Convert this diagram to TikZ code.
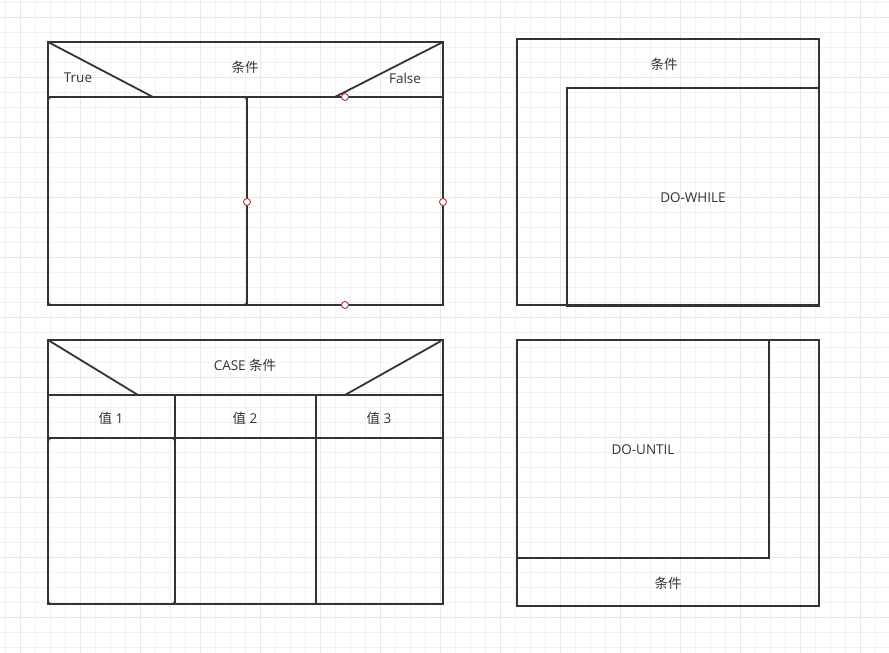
\documentclass[tikz,border=0pt]{standalone}
\usepackage{fontspec}
\setmainfont{Open Sans}
\newfontfamily\cjk{Noto Sans CJK SC}
\definecolor{frame}{HTML}{333333}
\definecolor{minorgrid}{HTML}{F2F2F2}
\definecolor{majorgrid}{HTML}{E8E8E8}
\definecolor{handle}{HTML}{A83A3A}
\tikzset{
  part/.style={draw=frame, line width=1.8pt},
  panel/.style={part, rectangle, inner sep=0pt, outer sep=0pt},
  lbl/.style={text=frame, font=\fontsize{13.5}{15}\selectfont, inner sep=0pt, yshift=-1pt},
  grip/.style={circle, draw=handle, fill=white, line width=0.9pt, minimum size=7pt, inner sep=0pt},
}

\begin{document}
\begin{tikzpicture}[x=1pt,y=-1pt]
	\useasboundingbox (0,0) rectangle (889,653);
	\foreach \x in {5,20,...,885}
		\draw[minorgrid, line width=0.8pt] (\x,0) -- (\x,653);
	\foreach \y in {2,17,...,647}
		\draw[minorgrid, line width=0.8pt] (0,\y) -- (889,\y);
	\foreach \x in {20,80,...,860}
		\draw[majorgrid, line width=0.8pt] (\x,0) -- (\x,653);
	\foreach \y in {17,77,...,647}
		\draw[majorgrid, line width=0.8pt] (0,\y) -- (889,\y);

	% IF block
	\node[panel, minimum width=395pt, minimum height=263pt] (ifbox) at (245.5,173.5) {};
	\coordinate (ifhl) at (48,97);
	\coordinate (ifhr) at (443,97);
	\coordinate (ifmid) at (247,97);
	\draw[part, rounded corners=3pt] (ifhl) rectangle (247,305);
	\draw[part] (ifhl) -- (ifhr);
	\draw[part] (ifmid) -- (ifmid |- ifbox.south);
	\draw[part] (ifbox.north west) -- (153,97);
	\draw[part] (ifbox.north east) -- (335,97);
	\node[lbl] (ifcond) at (245,66) {\cjk 条件};
	\node[lbl] (iftrue) at (78,77) {True};
	\node[lbl] (iffalse) at (405,77) {False};
	\node[grip] (gripn) at (345,97) {};
	\node[grip] (gripw) at (247,202) {};
	\node[grip] (gripe) at (443,202) {};
	\node[grip] (grips) at (345,305) {};

	% DO-WHILE block
	\node[panel, minimum width=302pt, minimum height=266pt] (whilebox) at (668,172) {};
	\node[panel, anchor=north east, minimum width=252pt, minimum height=218pt] (whilebody) at (819,88) {};
	\node[lbl] (whilecond) at (664,63) {\cjk 条件};
	\node[lbl] at (whilebody) {DO-WHILE};

	% CASE block
	\node[panel, minimum width=395pt, minimum height=264pt] (casebox) at (245.5,472) {};
	\coordinate (casehl) at (48,395);
	\coordinate (casehr) at (443,395);
	\coordinate (caserl) at (48,438);
	\coordinate (caserr) at (443,438);
	\draw[part, rounded corners=3pt] (caserl) rectangle (175,604);
	\draw[part] (casehl) -- (casehr);
	\draw[part] (caserl) -- (caserr);
	\draw[part] (175,395) -- (175,604);
	\draw[part] (316,395) -- (316,604);
	\draw[part] (casebox.north west) -- (138,395);
	\draw[part] (441,341) -- (345,395);
	\node[lbl] (casecond) at (245,364) {CASE {\cjk 条件}};
	\node[lbl] (val1) at (111,417) {{\cjk 值} 1};
	\node[lbl] (val2) at (245,417) {{\cjk 值} 2};
	\node[lbl] (val3) at (379,417) {{\cjk 值} 3};

	% DO-UNTIL block
	\node[panel, minimum width=302pt, minimum height=266pt] (untilbox) at (668,473) {};
	\node[panel, anchor=north west, minimum width=252pt, minimum height=218pt] (untilbody) at (untilbox.north west) {};
	\node[lbl] at (untilbody) {DO-UNTIL};
	\node[lbl] (untilcond) at (668,582) {\cjk 条件};
\end{tikzpicture}
\end{document}
